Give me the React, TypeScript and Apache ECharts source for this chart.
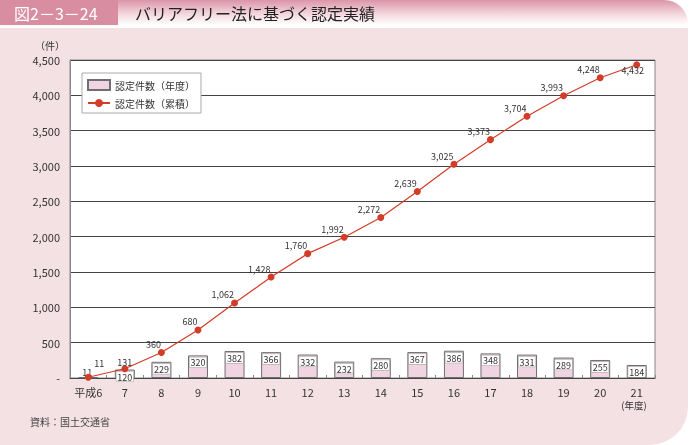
import React, { useEffect, useRef } from "react";
import * as echarts from "echarts";

const categories = ["平成6", "7", "8", "9", "10", "11", "12", "13", "14", "15", "16", "17", "18", "19", "20", "21"];
const lastCategoryNote = "(年度)";
const annualValues = [11, 120, 229, 320, 382, 366, 332, 232, 280, 367, 386, 348, 331, 289, 255, 184];
const cumulativeValues = [11, 131, 360, 680, 1062, 1428, 1760, 1992, 2272, 2639, 3025, 3373, 3704, 3993, 4248, 4432];
const seriesNames = ["認定件数（年度）", "認定件数（累積）"];
const titleNo = "図2－3－24";
const titleText = "バリアフリー法に基づく認定実績";
const unitText = "（件）";
const sourceText = "資料：国土交通省";

const FONT = '"Noto Sans CJK JP", "Noto Sans", sans-serif';

export default function App() {
  const ref = useRef<HTMLDivElement>(null);
  useEffect(() => {
    if (!ref.current) return;
    const chart = echarts.init(ref.current, undefined, { renderer: "svg" });
    const barData = annualValues.map((v, i) =>
      i === 0
        ? {
            value: v,
            label: {
              position: "top",
              backgroundColor: "transparent",
              borderWidth: 0,
              distance: 0,
              offset: [-1, 0],
            },
          }
        : v
    );
    const lineData = cumulativeValues.map((v, i) => {
      if (i === 0) return { value: v, label: { position: "top", offset: [11, -6] } };
      if (i === 1) return { value: v, label: { position: "top", offset: [0, 2] } };
      if (i === cumulativeValues.length - 1)
        return { value: v, label: { position: "bottom", offset: [-4, -2] } };
      return v;
    });
    chart.setOption({
      animation: false,
      textStyle: { fontFamily: FONT },
      graphic: [
        {
          type: "rect",
          shape: { x: 0, y: 28, width: 688, height: 417, r: [0, 0, 38, 0] },
          style: { fill: "#f4e1e4" },
          z: -10,
        },
        {
          type: "rect",
          shape: { x: 0, y: 0, width: 688, height: 25, r: [0, 24, 0, 0] },
          style: {
            fill: new echarts.graphic.LinearGradient(0, 0, 0, 1, [
              { offset: 0, color: "#db95a8" },
              { offset: 0.55, color: "#f3d6dd" },
              { offset: 1, color: "#ffffff" },
            ]),
          },
          z: -10,
        },
        {
          type: "rect",
          shape: { x: 0, y: 0, width: 118, height: 25 },
          style: { fill: "#d98da1" },
          z: -9,
        },
        {
          type: "text",
          x: 14,
          y: 13,
          style: { text: titleNo, fill: "#ffffff", font: `16px ${FONT}`, verticalAlign: "middle" },
        },
        {
          type: "text",
          x: 135,
          y: 13,
          style: { text: titleText, fill: "#222222", font: `16px ${FONT}`, verticalAlign: "middle" },
        },
        {
          type: "text",
          x: 50,
          y: 45,
          style: { text: unitText, fill: "#333333", font: `10px ${FONT}`, align: "center", verticalAlign: "middle" },
        },
        {
          type: "text",
          x: 634,
          y: 405,
          style: { text: lastCategoryNote, fill: "#333333", font: `9.5px ${FONT}`, align: "center", verticalAlign: "middle" },
        },
        {
          type: "text",
          x: 30,
          y: 421,
          style: { text: sourceText, fill: "#444444", font: `10px ${FONT}`, verticalAlign: "middle" },
        },
      ],
      legend: {
        left: 82,
        top: 73,
        orient: "vertical",
        backgroundColor: "#ffffff",
        borderColor: "#aaaaaa",
        borderWidth: 1,
        padding: [6, 6, 5, 5],
        itemGap: 7,
        itemWidth: 22,
        itemHeight: 10,
        textStyle: { fontSize: 10, color: "#333333", fontFamily: FONT },
        data: [
          { name: seriesNames[0], icon: "rect" },
          { name: seriesNames[1] },
        ],
      },
      grid: {
        left: 70,
        right: 35,
        top: 60,
        bottom: 67,
        show: true,
        backgroundColor: "#ffffff",
        borderColor: "#888888",
        borderWidth: 1,
      },
      xAxis: {
        type: "category",
        data: categories,
        axisLine: { lineStyle: { color: "#444444", width: 1 } },
        axisTick: { show: true, inside: true, length: 3, alignWithLabel: false, lineStyle: { color: "#888888" } },
        axisLabel: { interval: 0, color: "#333333", fontSize: 11, margin: 8, fontFamily: FONT },
      },
      yAxis: {
        type: "value",
        min: 0,
        max: 4500,
        interval: 500,
        axisLine: { show: true, lineStyle: { color: "#888888" } },
        axisTick: { show: false },
        splitLine: { lineStyle: { color: "#444444", width: 1 } },
        axisLabel: {
          color: "#333333",
          fontSize: 11,
          margin: 10,
          fontFamily: FONT,
          formatter: (v: number) => (v === 0 ? "-" : v.toLocaleString("en-US")),
        },
      },
      series: [
        {
          name: seriesNames[0],
          type: "bar",
          data: barData,
          barWidth: 20,
          itemStyle: { color: "#f0d4e2", borderColor: "#6f6f6f", borderWidth: 1 },
          label: {
            show: true,
            position: "insideTop",
            distance: 2,
            fontSize: 9,
            color: "#333333",
            backgroundColor: "#ffffff",
            borderColor: "#999999",
            borderWidth: 0.5,
            padding: [1, 1, 0, 1],
            fontFamily: FONT,
          },
          z: 2,
        },
        {
          name: seriesNames[1],
          type: "line",
          data: lineData,
          symbol: "circle",
          symbolSize: 7,
          lineStyle: { color: "#d23c28", width: 1.2 },
          itemStyle: { color: "#d23c28" },
          label: {
            show: true,
            position: "left",
            distance: 0,
            offset: [3, -8],
            fontSize: 9,
            color: "#333333",
            fontFamily: FONT,
            formatter: (p: any) => Number(p.value).toLocaleString("en-US"),
          },
          z: 3,
        },
      ],
    });
    return () => chart.dispose();
  }, []);
  return (
    <div
      ref={ref}
      style={{ position: "fixed", left: 0, top: 0, width: 690, height: 445 }}
    />
  );
}
